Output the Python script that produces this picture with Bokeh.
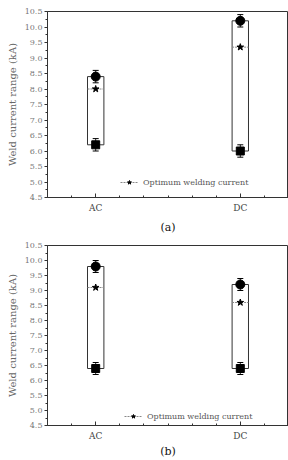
from bokeh.plotting import figure
from bokeh.layouts import column
from bokeh.models import (ColumnDataSource, Whisker, FixedTicker, Legend, LegendItem, Range1d)
from bokeh.embed import file_html
from bokeh.resources import INLINE

# welding current process windows (kA)
categories = ["AC", "DC"]

a_upper = [8.4, 10.2]      # upper limit of weldable current
a_optimum = [8.0, 9.35]    # optimum welding current
a_lower = [6.2, 6.0]       # lower limit of weldable current

b_upper = [9.8, 9.2]
b_optimum = [9.1, 8.6]
b_lower = [6.4, 6.4]

err = [0.2, 0.2]           # scatter of the limits

y_ticks = [4.5, 5.0, 5.5, 6.0, 6.5, 7.0, 7.5, 8.0, 8.5, 9.0, 9.5, 10.0, 10.5]

FONT = "DejaVu Serif"
X_END = 5
# the category axis reserves a strip on the right; pull it back past the page edge
RIGHT_TRIM = 11


def panel(upper, optimum, lower, caption, height, borders, legend_loc, caption_gap):
    left, top, bottom = borders
    xs = [1 + 3 * i for i in range(len(categories))]
    half = 0.17
    src = ColumnDataSource(dict(
        x=xs, upper=upper, optimum=optimum, lower=lower,
        up_hi=[u + e for u, e in zip(upper, err)], up_lo=[u - e for u, e in zip(upper, err)],
        lo_hi=[l + e for l, e in zip(lower, err)], lo_lo=[l - e for l, e in zip(lower, err)],
        x0=[x - half for x in xs], x1=[x + half for x in xs],
    ))

    p = figure(width=288 + RIGHT_TRIM, height=height, output_backend="svg",
               toolbar_location=None, margin=(0, -RIGHT_TRIM, 0, 0),
               x_range=Range1d(0, X_END), y_range=Range1d(4.5, 10.5),
               min_border_left=left, min_border_right=0, min_border_top=top,
               min_border_bottom=bottom)
    p.background_fill_color = "white"
    p.border_fill_color = "white"
    p.grid.visible = False
    p.outline_line_color = "#333333"
    p.outline_line_width = 1

    # window boxes spanning lower to upper limit
    p.quad(left="x0", right="x1", bottom="lower", top="upper", source=src,
           fill_color=None, line_color="#333333", line_width=1)
    # dotted optimum line across each box
    seg = p.segment(x0="x0", x1="x1", y0="optimum", y1="optimum", source=src,
                    line_color="#888888", line_dash="2 1", line_width=1)

    # error bars on the limits
    for hi, lo in (("up_hi", "up_lo"), ("lo_hi", "lo_lo")):
        w = Whisker(base="x", upper=hi, lower=lo, source=src, line_color="#222222",
                    line_width=1)
        w.upper_head.size = 6
        w.lower_head.size = 6
        p.add_layout(w)

    p.scatter(x="x", y="upper", source=src, marker="circle", size=9,
              fill_color="black", line_color="black")
    p.scatter(x="x", y="lower", source=src, marker="square", size=8,
              fill_color="black", line_color="black")
    star = p.scatter(x="x", y="optimum", source=src, marker="star", size=7,
                     fill_color="black", line_color="black")

    legend = Legend(items=[LegendItem(label="Optimum welding current", renderers=[seg, star])],
                    location=legend_loc, padding=0, margin=0, spacing=0,
                    glyph_width=18, glyph_height=10, label_height=10,
                    label_standoff=5, border_line_color=None,
                    background_fill_alpha=0)
    legend.label_text_font = FONT
    legend.label_text_font_size = "8px"
    legend.label_text_color = "#555555"
    p.add_layout(legend)

    # category axis with inward ticks
    p.xaxis.ticker = FixedTicker(ticks=xs, minor_ticks=[0.5, 1.5, 2.0, 2.5, 3.0, 3.5, 4.5])
    p.xaxis.major_label_overrides = {x: c for x, c in zip(xs, categories)}
    p.xaxis.major_tick_in = 4
    p.xaxis.major_tick_out = 0
    p.xaxis.minor_tick_in = 2
    p.xaxis.minor_tick_out = 0
    p.xaxis.major_label_standoff = 5
    p.xaxis.major_label_text_font = FONT
    p.xaxis.major_label_text_font_size = "9px"
    p.xaxis.major_label_text_color = "#444444"
    p.xaxis.axis_label = caption
    p.xaxis.axis_label_text_font = FONT
    p.xaxis.axis_label_text_font_style = "normal"
    p.xaxis.axis_label_text_font_size = "11px"
    p.xaxis.axis_label_text_color = "#111111"
    p.xaxis.axis_label_standoff = caption_gap
    p.xaxis.axis_line_color = "#333333"
    p.xaxis.major_tick_line_color = "#333333"
    p.xaxis.minor_tick_line_color = "#333333"

    p.yaxis.ticker = FixedTicker(ticks=y_ticks,
                                 minor_ticks=[t + 0.25 for t in y_ticks[:-1]])
    p.yaxis.major_label_overrides = {t: f"{t:.1f}" for t in y_ticks}
    p.yaxis.major_tick_in = 0
    p.yaxis.major_tick_out = 3
    p.yaxis.minor_tick_in = 0
    p.yaxis.minor_tick_out = 2
    p.yaxis.major_label_standoff = 2
    p.yaxis.major_label_text_font = FONT
    p.yaxis.major_label_text_font_size = "8px"
    p.yaxis.major_label_text_color = "#777777"
    p.yaxis.axis_label = "Weld current range (kA)"
    p.yaxis.axis_label_text_font = FONT
    p.yaxis.axis_label_text_font_style = "normal"
    p.yaxis.axis_label_text_font_size = "10px"
    p.yaxis.axis_label_text_color = "#666666"
    p.yaxis.axis_label_standoff = 4
    p.yaxis.axis_line_color = "#333333"
    p.yaxis.major_tick_line_color = "#333333"
    p.yaxis.minor_tick_line_color = "#333333"
    return p


pa = panel(a_upper, a_optimum, a_lower, "(a)", 236, (42, 11, 38), (73, 10), 5)
pb = panel(b_upper, b_optimum, b_lower, "(b)", 224, (47, 9, 33), (77, 4), 1)

layout = column(pa, pb, spacing=0)
open("out.html", "w").write(file_html(layout, INLINE))
